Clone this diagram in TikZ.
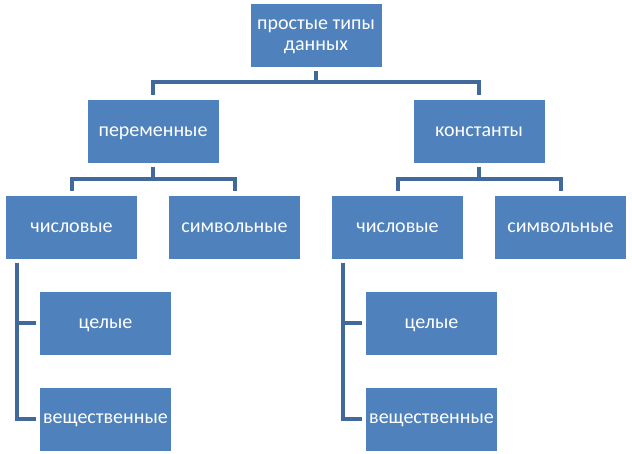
\documentclass[tikz,border=0pt]{standalone}
\usepackage{fontspec}
\setmainfont{Carlito}
\usetikzlibrary{positioning}
\definecolor{boxblue}{HTML}{4F81BD}
\definecolor{lineblue}{HTML}{41699B}

\begin{document}
\begin{tikzpicture}[
    x=1pt, y=1pt,
    node distance=32.5pt,
    box/.style={rectangle, fill=boxblue, text=white, minimum width=131pt, minimum height=63pt, inner sep=0pt, text depth=0pt, align=center, font=\fontsize{20}{21}\selectfont},
    link/.style={draw=lineblue, line width=4pt}
]
    \useasboundingbox (0,0) rectangle (632,-453);

    \node[box] (root) at (316,-35.5) {простые типы\\ данных};
    \node[box, below=of root, xshift=-163pt] (vars) {переменные};
    \node[box, below=of root, xshift=163pt] (consts) {константы};

    \node[box, below=of vars, xshift=-81.5pt] (varnum) {числовые};
    \node[box, below=of vars, xshift=81.5pt] (varsym) {символьные};
    \node[box, below=of varnum, xshift=34pt] (varint) {целые};
    \node[box, below=of varint] (varreal) {вещественные};

    \node[box, below=of consts, xshift=-81.5pt] (constnum) {числовые};
    \node[box, below=of consts, xshift=81.5pt] (constsym) {символьные};
    \node[box, below=of constnum, xshift=34pt] (constint) {целые};
    \node[box, below=of constint] (constreal) {вещественные};

    \draw[link] ([yshift=-4pt]root.south) -- ([yshift=-15pt]root.south);
    \draw[link] ([yshift=5pt]vars.north) |- ([yshift=-15pt]root.south) -| ([yshift=5pt]consts.north);

    \draw[link] ([yshift=-4pt]vars.south) -- ([yshift=-16pt]vars.south);
    \draw[link] ([yshift=5pt]varnum.north) |- ([yshift=-16pt]vars.south) -| ([yshift=5pt]varsym.north);
    \draw[link] ([yshift=-4pt]consts.south) -- ([yshift=-16pt]consts.south);
    \draw[link] ([yshift=5pt]constnum.north) |- ([yshift=-16pt]consts.south) -| ([yshift=5pt]constsym.north);

    \draw[link] ([xshift=11.5pt,yshift=-4pt]varnum.south west) |- ([xshift=-4pt]varreal.west);
    \draw[link] ([xshift=-4pt]varint.west) -- ++(-18.5,0);
    \draw[link] ([xshift=11.5pt,yshift=-4pt]constnum.south west) |- ([xshift=-4pt]constreal.west);
    \draw[link] ([xshift=-4pt]constint.west) -- ++(-18.5,0);
\end{tikzpicture}
\end{document}
